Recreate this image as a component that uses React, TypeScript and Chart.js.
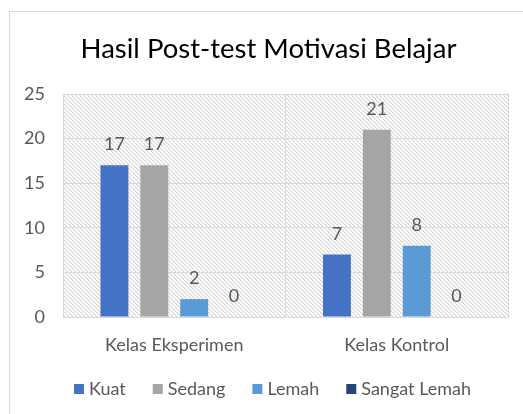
import React, { useEffect, useRef } from "react";
import { Chart, registerables } from "chart.js";

Chart.register(...registerables);

const categories = ["Kelas Eksperimen", "Kelas Kontrol"];
const seriesNames = ["Kuat", "Sedang", "Lemah", "Sangat Lemah"];
const kuat = [17, 7];
const sedang = [17, 21];
const lemah = [2, 8];
const sangatLemah = [0, 0];
const seriesValues = [kuat, sedang, lemah, sangatLemah];
const seriesColors = ["#4472C4", "#A5A5A5", "#5B9BD5", "#264478"];
const titleText = "Hasil Post-test Motivasi Belajar";

const FONT = "Lato, Carlito, Calibri, sans-serif";
const TEXT = "#595959";

function makePattern(): CanvasPattern | string {
  const c = document.createElement("canvas");
  c.width = 8;
  c.height = 8;
  const g = c.getContext("2d");
  if (!g) return "#fff";
  g.fillStyle = "#ffffff";
  g.fillRect(0, 0, 8, 8);
  for (let y = 0; y < 8; y++) {
    for (let x = 0; x < 8; x++) {
      const m = (((x - y) % 4) + 4) % 4;
      if (m === 0) {
        g.fillStyle = "#d4d4d4";
        g.fillRect(x, y, 1, 1);
      } else if (m === 1) {
        g.fillStyle = "#efefef";
        g.fillRect(x, y, 1, 1);
      }
    }
  }
  const p = g.createPattern(c, "repeat");
  return p || "#fff";
}

export default function App() {
  const ref = useRef<HTMLCanvasElement | null>(null);

  useEffect(() => {
    document.body.style.margin = "0";
    const canvas = ref.current;
    if (!canvas) return;
    const pattern = makePattern();

    const bgPlugin = {
      id: "bgPlugin",
      beforeDraw(chart: any) {
        const { ctx, chartArea } = chart;
        ctx.save();
        ctx.fillStyle = "#ffffff";
        ctx.fillRect(0, 0, chart.width, chart.height);
        ctx.strokeStyle = "#D9D9D9";
        ctx.lineWidth = 1;
        ctx.strokeRect(9.5, 11.5, 700, 700);
        ctx.fillStyle = pattern as any;
        ctx.fillRect(chartArea.left, chartArea.top, chartArea.right - chartArea.left, chartArea.bottom - chartArea.top);
        ctx.restore();
      },
    };

    const textPlugin = {
      id: "textPlugin",
      afterDatasetsDraw(chart: any) {
        const { ctx } = chart;
        ctx.save();
        // data labels
        ctx.font = `18px ${FONT}`;
        ctx.fillStyle = TEXT;
        ctx.textAlign = "center";
        ctx.textBaseline = "alphabetic";
        chart.data.datasets.forEach((ds: any, i: number) => {
          const meta = chart.getDatasetMeta(i);
          meta.data.forEach((bar: any, j: number) => {
            ctx.fillText(String(ds.data[j]), bar.x, bar.y - 15);
          });
        });
        // title
        ctx.font = `27.5px ${FONT}`;
        ctx.fillStyle = "#000000";
        ctx.fillText(titleText, 268.5, 57.5);
        // legend
        ctx.font = `18px ${FONT}`;
        const box = 10;
        const gapBoxText = 5;
        const gapItems = 27;
        const widths = seriesNames.map((n) => box + gapBoxText + ctx.measureText(n).width);
        const total = widths.reduce((a, b) => a + b, 0) + gapItems * (seriesNames.length - 1);
        let x = 272.5 - total / 2;
        const yBase = 395;
        ctx.textAlign = "left";
        seriesNames.forEach((n, i) => {
          ctx.fillStyle = seriesColors[i];
          ctx.fillRect(x, 384, box, box);
          ctx.fillStyle = TEXT;
          ctx.fillText(n, x + box + gapBoxText, yBase);
          x += widths[i] + gapItems;
        });
        ctx.restore();
      },
    };

    const chart = new Chart(canvas, {
      type: "bar",
      data: {
        labels: categories,
        datasets: seriesNames.map((name, i) => ({
          label: name,
          data: seriesValues[i],
          backgroundColor: seriesColors[i],
          borderWidth: 0,
          categoryPercentage: 0.717,
          barPercentage: 0.7,
        })),
      },
      options: {
        animation: false,
        responsive: false,
        devicePixelRatio: 1,
        layout: { padding: { left: 0, top: 94, right: 15, bottom: 0 } },
        plugins: {
          legend: { display: false },
          title: { display: false },
          tooltip: { enabled: false },
        },
        scales: {
          x: {
            afterFit(scale: any) {
              scale.height = 97;
            },
            grid: { color: "#D9D9D9", drawTicks: false, offset: true },
            border: { color: "#D9D9D9" },
            ticks: { color: TEXT, font: { family: FONT, size: 18 }, padding: 17 },
          },
          y: {
            min: 0,
            max: 25,
            afterFit(scale: any) {
              scale.width = 63;
            },
            grid: { color: "#D9D9D9", drawTicks: false },
            border: { color: "#D9D9D9" },
            ticks: { stepSize: 5, color: TEXT, font: { family: FONT, size: 18 }, padding: 18 },
          },
        },
      },
      plugins: [bgPlugin, textPlugin],
    });

    return () => chart.destroy();
  }, []);

  return (
    <div style={{ width: 523, height: 414, position: "relative" }}>
      <canvas ref={ref} width={523} height={414} style={{ display: "block", width: 523, height: 414 }} />
    </div>
  );
}
